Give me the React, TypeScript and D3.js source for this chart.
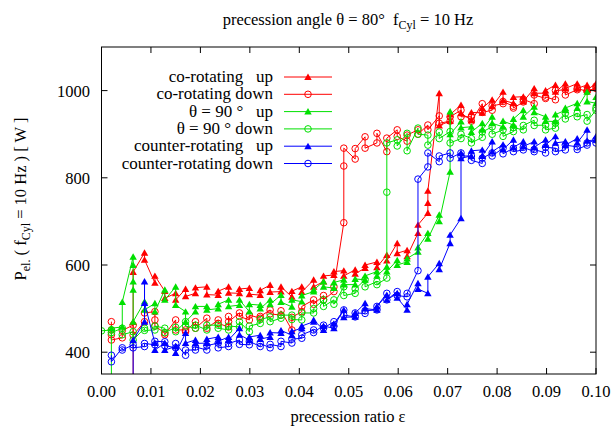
import React from 'react';
import * as d3 from 'd3';

// precession ratio grid (x values)
const epsGrid = [0.0, 0.002, 0.0042, 0.0064, 0.0087, 0.0108, 0.0128, 0.015, 0.017, 0.019,
  0.0213, 0.0236, 0.0257, 0.0279, 0.0299, 0.0321, 0.0341, 0.0363, 0.0385, 0.0405,
  0.0429, 0.0449, 0.047, 0.049, 0.0513, 0.0533, 0.0557, 0.0577, 0.0598, 0.0618,
  0.064, 0.066, 0.0683, 0.0705, 0.0727, 0.0748, 0.077, 0.079, 0.0812, 0.0833,
  0.0853, 0.0875, 0.0898, 0.0918, 0.0938, 0.0962, 0.0982, 0.1];

// P_el [W], repeated measurements per grid point
const coUp = [[], [], [], [250, 469, 584], [628, 612], [559, 575], [540, 524], [535, 520], [545, 528], [535, 548],
  [550, 532], [531, 540], [550, 536], [535, 545], [547, 533], [531, 542], [554, 538], [539, 550], [527, 540], [550, 538],
  [566, 550], [562, 575], [577, 585], [587, 575], [589, 580], [593, 600], [607, 595], [623, 610], [650, 627], [634, 620],
  [673, 692], [719, 742, 770], [994, 920], [930, 945], [967, 948], [932, 950], [949, 960], [979, 964], [997, 978], [971, 985],
  [986, 975], [1005, 994], [994, 1000], [1013, 997], [1016, 1005], [1016, 1005], [1013, 1002], [1016, 1008]];

const coDown = [[], [470, 451, 440, 428], [433, 450], [462, 439], [470, 490], [493, 474, 460], [444, 440], [474, 451], [451, 447], [470, 455],
  [478, 455], [474, 466], [458, 482, 470], [490, 482], [474, 485], [478, 482], [497, 488], [485, 495], [451, 480], [493, 505],
  [520, 510], [530, 520], [539, 550], [697, 827, 868], [843, 867], [894, 868], [880, 902], [860, 891], [910, 895], [884, 898],
  [910, 900], [921, 910], [942, 925], [930, 940], [955, 940], [940, 930], [970, 950], [955, 965], [970, 975], [964, 960],
  [974, 980], [970, 990], [982, 985], [979, 1000], [1002, 990], [1002, 1005], [998, 1000], [1005, 1010]];

const t90Up = [[], [250, 455], [458, 515], [619, 600, 562, 543, 470], [516, 497], [512, 493], [543, 520], [550, 508], [493, 470], [493, 505],
  [505, 497], [500, 510], [520, 505], [508, 520], [493, 510], [508, 500], [520, 510], [531, 515], [504, 520], [516, 530],
  [539, 543], [562, 550], [547, 560], [566, 555], [555, 568], [566, 575], [585, 575], [596, 585], [611, 600], [607, 615],
  [630, 640], [673, 660], [715, 700], [814, 952, 900], [929, 915], [917, 905], [925, 910], [940, 925], [917, 930], [921, 935],
  [955, 940], [963, 950], [940, 930], [929, 945], [955, 960], [971, 960], [997, 975], [971, 985]];

const t90Down = [[449], [451, 445], [455, 440], [447, 428], [455, 450], [451, 460], [455, 445], [457, 447], [470, 460], [455, 462],
  [451, 462], [462, 455], [451, 460], [458, 470], [447, 460], [466, 475], [481, 470], [478, 485], [485, 475], [474, 490],
  [490, 500], [520, 505], [520, 510], [550, 530], [535, 545], [566, 550], [562, 555], [570, 767, 880], [887, 873], [902, 862],
  [914, 900], [898, 875], [905, 890], [906, 880], [890, 900], [890, 880], [893, 905], [917, 900], [910, 895], [906, 915],
  [910, 920], [932, 920], [921, 910], [914, 925], [948, 935], [948, 940], [945, 930], [955, 960]];

const crUp = [[], [], [], [250, 428], [470, 562, 513], [421, 405], [421, 405], [413, 398], [444, 421], [428, 420],
  [421, 430], [435, 425], [435, 428], [455, 440], [428, 435], [439, 430], [435, 445], [444, 450], [439, 448], [455, 460],
  [470, 474], [451, 460], [455, 465], [497, 480], [481, 490], [512, 500], [497, 505], [531, 520], [535, 525], [497, 510],
  [558, 545], [535, 573], [604, 590], [650, 669], [707, 857, 845], [850, 862], [864, 850], [883, 860], [876, 865], [887, 870],
  [883, 872], [883, 870], [887, 875], [895, 880], [883, 875], [890, 880], [910, 885], [887, 895]];

const crDown = [[], [393, 378], [410, 405], [417, 410], [413, 420], [417, 425], [424, 415], [410, 420], [393, 405], [405, 412],
  [405, 415], [421, 410], [413, 420], [428, 418], [417, 425], [413, 420], [410, 418], [413, 425], [421, 430], [432, 440],
  [451, 445], [462, 455], [470, 460], [497, 485], [481, 490], [489, 495], [497, 505], [535, 520], [539, 530], [527, 535],
  [587, 797], [825, 857], [837, 850], [857, 845], [857, 850], [850, 840], [833, 845], [857, 850], [868, 855], [868, 860],
  [864, 870], [860, 865], [857, 870], [868, 860], [864, 875], [871, 865], [875, 880], [887, 880]];

const xTicks = [0, 0.01, 0.02, 0.03, 0.04, 0.05, 0.06, 0.07, 0.08, 0.09, 0.1];
const yTicks = [400, 600, 800, 1000];

const seriesNames = ['co-rotating   up', 'co-rotating down', 'θ = 90 °   up', 'θ = 90 ° down', 'counter-rotating   up', 'counter-rotating down'];
const seriesData = [coUp, coDown, t90Up, t90Down, crUp, crDown];
const seriesColors = ['#ff0000', '#ff0000', '#00e000', '#00e000', '#0000ff', '#0000ff'];
const seriesMarkers = ['tri', 'circle', 'tri', 'circle', 'tri', 'circle'];

const W = 611, H = 428;
const L = 101.5, R = 596, T = 47, B = 374;
const FONT = "'Liberation Serif', 'Times New Roman', Times, serif";
const txt: React.CSSProperties = { fontFamily: FONT, whiteSpace: 'pre' };

export default function App() {
  const x = d3.scaleLinear().domain([0, 0.1]).range([L, R]);
  const y = d3.scaleLinear().domain([350, 1100]).range([B, T]);
  const line = d3.line<[number, number]>().x(d => x(d[0])).y(d => y(d[1]));
  const tri = d3.symbol(d3.symbolTriangle, 24)() as string;

  const pts = seriesData.map(s => {
    const out: [number, number][] = [];
    s.forEach((vals, i) => vals.forEach(v => out.push([epsGrid[i], v])));
    return out;
  });

  const marker = (kind: string, cx: number, cy: number, color: string, key: any) =>
    kind === 'tri'
      ? <path key={key} d={tri} transform={`translate(${cx},${cy + 0.8})`} fill={color} />
      : <circle key={key} cx={cx} cy={cy} r={3.3} fill="none" stroke={color} strokeWidth={1} />;

  return (
    <svg width={W} height={H} style={{ position: 'absolute', left: 0, top: 0, background: '#fff' }}>
      <defs>
        <clipPath id="plotclip"><rect x={L} y={T} width={R - L} height={B - T} /></clipPath>
      </defs>
      <rect x={0} y={0} width={W} height={H} fill="#fff" />
      {/* title */}
      <text x={348} y={25} fontSize={16.5} textAnchor="middle" style={txt}>
        {'precession angle θ = 80°  f'}<tspan fontSize={12} dy={4}>Cyl</tspan><tspan dy={-4}>{' = 10 Hz'}</tspan>
      </text>
      {/* data */}
      <g clipPath="url(#plotclip)">
        {pts.map((p, si) => (
          <g key={si}>
            <path d={line(p) as string} fill="none" stroke={seriesColors[si]} strokeWidth={1} />
            {p.map((d, j) => marker(seriesMarkers[si], x(d[0]), y(d[1]), seriesColors[si], j))}
          </g>
        ))}
      </g>
      {/* legend */}
      {seriesNames.map((n, i) => {
        const ly = 77 + i * 17.3;
        return (
          <g key={i}>
            <text x={273} y={ly + 5} fontSize={17} textAnchor="end" style={txt}>{n}</text>
            <line x1={284} x2={332} y1={ly} y2={ly} stroke={seriesColors[i]} strokeWidth={1} />
            {marker(seriesMarkers[i], 308, ly, seriesColors[i], 'm')}
          </g>
        );
      })}
      {/* frame */}
      <rect x={L} y={T} width={R - L} height={B - T} fill="none" stroke="#000" strokeWidth={1} />
      {xTicks.map((t, i) => (
        <g key={'x' + i}>
          <line x1={x(t)} x2={x(t)} y1={B} y2={B - 6} stroke="#000" />
          <line x1={x(t)} x2={x(t)} y1={T} y2={T + 6} stroke="#000" />
          <text x={x(t)} y={397} fontSize={16.5} textAnchor="middle" style={txt}>{t.toFixed(2)}</text>
        </g>
      ))}
      {yTicks.map((t, i) => (
        <g key={'y' + i}>
          <line x1={L} x2={L + 6} y1={y(t)} y2={y(t)} stroke="#000" />
          <line x1={R} x2={R - 6} y1={y(t)} y2={y(t)} stroke="#000" />
          <text x={90} y={y(t) + 6} fontSize={16.5} textAnchor="end" style={txt}>{t}</text>
        </g>
      ))}
      {/* axis labels */}
      <text x={348} y={422} fontSize={16.5} textAnchor="middle" style={txt}>precession ratio ε</text>
      <text transform="translate(26,199) rotate(-90)" fontSize={16.5} textAnchor="middle" style={txt}>
        {'P'}<tspan fontSize={12} dy={4}>el.</tspan><tspan dy={-4}>{' ( f'}</tspan><tspan fontSize={12} dy={4}>Cyl</tspan><tspan dy={-4}>{' = 10 Hz ) [ W ]'}</tspan>
      </text>
    </svg>
  );
}
